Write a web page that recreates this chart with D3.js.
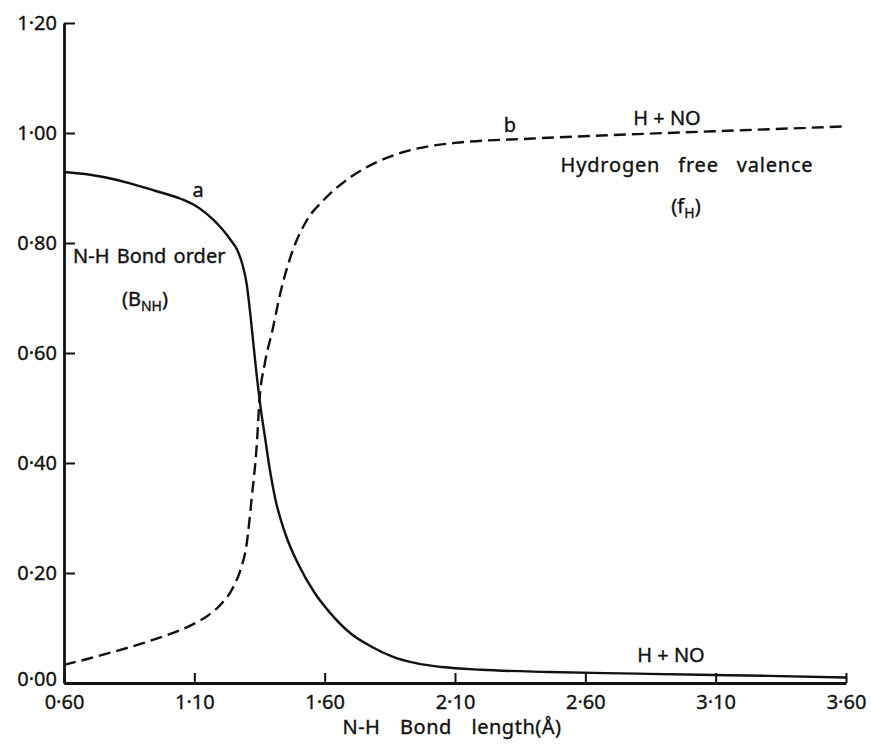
<!DOCTYPE html>
<html>
<head>
<meta charset="utf-8">
<script src="https://cdn.jsdelivr.net/npm/d3@7"></script>
<style>
  html, body { margin: 0; padding: 0; background: #fff; }
  svg text { font-family: "Noto Sans", "DejaVu Sans", sans-serif; fill: #111; stroke: #111; stroke-width: 0.35px; }
</style>
</head>
<body>
<svg id="chart" width="871" height="745"></svg>
<script>
// ---- data ----
const xTicks = [0.60, 1.10, 1.60, 2.10, 2.60, 3.10, 3.60];
const xTickLabels = ["0·60", "1·10", "1·60", "2·10", "2·60", "3·10", "3·60"];
const yTicks = [0.00, 0.20, 0.40, 0.60, 0.80, 1.00, 1.20];
const yTickLabels = ["0·00", "0·20", "0·40", "0·60", "0·80", "1·00", "1·20"];

// curve a: N-H bond order (solid)
const bondX = [0.60, 0.70, 0.80, 0.85, 0.95, 1.05, 1.10, 1.15, 1.20, 1.24, 1.265, 1.285, 1.30, 1.315, 1.333, 1.352, 1.371, 1.39, 1.41, 1.45, 1.50, 1.56, 1.62, 1.70, 1.78, 1.86, 1.95, 2.05, 2.20, 2.46, 2.80, 3.04, 3.30, 3.60];
const bondY = [0.929, 0.924, 0.915, 0.909, 0.895, 0.880, 0.869, 0.852, 0.829, 0.805, 0.787, 0.760, 0.728, 0.670, 0.587, 0.509, 0.447, 0.387, 0.336, 0.270, 0.215, 0.165, 0.128, 0.090, 0.066, 0.048, 0.036, 0.029, 0.024, 0.020, 0.017, 0.015, 0.013, 0.010];

// curve b: hydrogen free valence (dashed)
const valX = [0.60, 0.70, 0.80, 0.90, 1.00, 1.10, 1.15, 1.20, 1.25, 1.28, 1.30, 1.32, 1.34, 1.35, 1.37, 1.40, 1.43, 1.478, 1.53, 1.60, 1.70, 1.80, 1.90, 2.00, 2.10, 2.40, 2.80, 3.20, 3.60];
const valY = [0.033, 0.045, 0.058, 0.072, 0.088, 0.108, 0.122, 0.142, 0.175, 0.210, 0.250, 0.336, 0.436, 0.515, 0.580, 0.642, 0.709, 0.787, 0.840, 0.880, 0.920, 0.947, 0.965, 0.976, 0.982, 0.990, 0.998, 1.005, 1.012];

// ---- chart ----
const svg = d3.select("#chart");
const x = d3.scaleLinear().domain([0.60, 3.60]).range([64, 846]);
const y = d3.scaleLinear().domain([0, 1.20]).range([683, 23]);

const axisColor = "#111";

// x axis
const xAxis = svg.append("g").attr("transform", `translate(0,${y(0)})`)
  .call(d3.axisBottom(x).tickValues(xTicks).tickSizeInner(-10).tickSizeOuter(0).tickPadding(9)
    .tickFormat((d, i) => xTickLabels[i]));
xAxis.select(".domain").attr("stroke", axisColor).attr("stroke-width", 2.8);
xAxis.selectAll(".tick line").attr("stroke", axisColor).attr("stroke-width", 2);
xAxis.selectAll(".tick text").attr("font-size", 20).attr("dy", "0.85em")
  .attr("font-family", "'Noto Sans', sans-serif").attr("fill", "#111");

// y axis
const yAxis = svg.append("g").attr("transform", `translate(${x(0.60)},0)`)
  .call(d3.axisLeft(y).tickValues(yTicks).tickSizeInner(-11).tickSizeOuter(0).tickPadding(7)
    .tickFormat((d, i) => yTickLabels[i]));
yAxis.select(".domain").attr("stroke", axisColor).attr("stroke-width", 2.8);
yAxis.selectAll(".tick line").attr("stroke", axisColor).attr("stroke-width", 2);
yAxis.selectAll(".tick text").attr("font-size", 20)
  .attr("font-family", "'Noto Sans', sans-serif").attr("fill", "#111")
  .attr("dy", d => d === 0 ? "0.12em" : "0.32em");

// curves
const line = d3.line().x(d => x(d[0])).y(d => y(d[1])).curve(d3.curveMonotoneX);
const bond = bondX.map((v, i) => [v, bondY[i]]);
const val = valX.map((v, i) => [v, valY[i]]);

svg.append("path").datum(bond).attr("d", line)
  .attr("fill", "none").attr("stroke", "#111").attr("stroke-width", 2.4);
svg.append("path").datum(val).attr("d", line)
  .attr("fill", "none").attr("stroke", "#111").attr("stroke-width", 2.4)
  .attr("stroke-dasharray", "12,6");

// annotations
const fs = 20;
function label(txt, px, py, anchor, size) {
  return svg.append("text").attr("x", px).attr("y", py).attr("text-anchor", anchor || "start")
    .attr("font-size", size || fs).text(txt);
}
label("a", 198, 197, "middle");
label("b", 510, 132, "middle");
svg.append("text").attr("x", 73).attr("y", 263).attr("font-size", fs)
  .attr("word-spacing", 2).text("N-H Bond order");
const bnh = svg.append("text").attr("x", 145).attr("y", 306).attr("text-anchor", "middle").attr("font-size", fs);
bnh.append("tspan").text("(B");
bnh.append("tspan").attr("font-size", 14).attr("dy", 5).text("NH");
bnh.append("tspan").attr("dy", -5).text(")");

label("H + NO", 667, 125, "middle");
svg.append("text").attr("x", 687).attr("y", 172).attr("text-anchor", "middle")
  .attr("font-size", fs).attr("letter-spacing", 0.8).attr("word-spacing", 12).text("Hydrogen free valence");
const fh = svg.append("text").attr("x", 686).attr("y", 213).attr("text-anchor", "middle").attr("font-size", fs);
fh.append("tspan").text("(f");
fh.append("tspan").attr("font-size", 14).attr("dy", 5).text("H");
fh.append("tspan").attr("dy", -5).text(")");

label("H + NO", 671, 662, "middle");

// x axis title
svg.append("text").attr("x", 452).attr("y", 734).attr("text-anchor", "middle")
  .attr("font-size", 20).attr("letter-spacing", 0.5).attr("word-spacing", 14).text("N-H Bond length(Å)");
</script>
</body>
</html>
